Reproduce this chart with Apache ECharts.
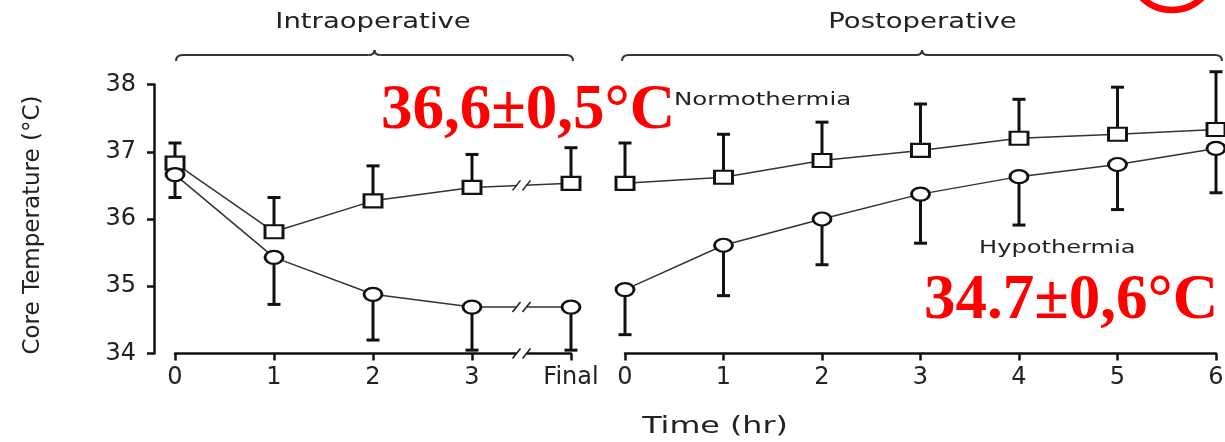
<!DOCTYPE html>
<html><head><meta charset="utf-8">
<script src="https://cdn.jsdelivr.net/npm/echarts@6/dist/echarts.min.js"></script>
<style>html,body{margin:0;padding:0;background:#fff}#c{width:1225px;height:442px}</style>
</head><body><div id="c"></div>
<script>
// ---- data ----
const intraLabels = ['0', '1', '2', '3', 'Final'];
const postLabels = ['0', '1', '2', '3', '4', '5', '6'];
const yTicks = [34, 35, 36, 37, 38];
// Normothermia (squares, SD drawn upward)
const normoIntra = [36.83, 35.81, 36.27, 36.47, 36.53];
const normoIntraSD = [0.30, 0.51, 0.52, 0.49, 0.53];
const normoPost = [36.53, 36.62, 36.87, 37.02, 37.20, 37.26, 37.33];
const normoPostSD = [0.60, 0.64, 0.57, 0.69, 0.58, 0.70, 0.86];
// Hypothermia (circles, SD drawn downward)
const hypoIntra = [36.66, 35.43, 34.88, 34.69, 34.69];
const hypoIntraSD = [0.34, 0.70, 0.68, 0.64, 0.64];
const hypoPost = [34.95, 35.61, 36.00, 36.37, 36.63, 36.81, 37.05];
const hypoPostSD = [0.67, 0.75, 0.68, 0.73, 0.72, 0.67, 0.66];
// axis break between "3" and "Final"
const breakBetween = [3, 4];

const INK = '#111';
const TXT = '#222';
const FONT = 'DejaVu Sans';
const ellipsePath = 'path://M10,0A10,10,0,1,1,10,20A10,10,0,1,1,10,0Z';

function pts(arr) { return arr.map((v, i) => [i, v]); }

function lineSeries(name, xi, arr, symbol) {
  return {
    name, type: 'line', xAxisIndex: xi, yAxisIndex: xi, data: pts(arr), z: 3,
    symbol, symbolSize: [18, 13], showAllSymbol: true,
    itemStyle: { color: '#fff', borderColor: INK, borderWidth: 2.5 },
    lineStyle: { color: '#333', width: 1.5 },
    emphasis: { disabled: true }, silent: true
  };
}

function errSeries(xi, arr, sd, dir) {
  return {
    type: 'custom', xAxisIndex: xi, yAxisIndex: xi, z: 1, clip: false, silent: true,
    data: arr.map((v, i) => [i, v, sd[i]]),
    renderItem: (params, api) => {
      const x = api.value(0), y = api.value(1), e = api.value(2);
      const p0 = api.coord([x, y]);
      const p1 = api.coord([x, y + dir * e]);
      const hw = 6.5;
      return { type: 'group', children: [
        { type: 'line', shape: { x1: p0[0], y1: p0[1], x2: p1[0], y2: p1[1] }, style: { stroke: INK, lineWidth: 3 } },
        { type: 'line', shape: { x1: p1[0] - hw, y1: p1[1], x2: p1[0] + hw, y2: p1[1] }, style: { stroke: INK, lineWidth: 3 } }
      ] };
    }
  };
}

const [ba, bb] = breakBetween;
const breakX = (ba + bb) / 2;
const breakSeries = {
  type: 'custom', xAxisIndex: 0, yAxisIndex: 0, z: 6, clip: false, silent: true,
  data: [
    [breakX, (normoIntra[ba] + normoIntra[bb]) / 2],
    [breakX, (hypoIntra[ba] + hypoIntra[bb]) / 2],
    [breakX, yTicks[0]]
  ],
  renderItem: (params, api) => {
    const p = api.coord([api.value(0), api.value(1)]);
    const cx = p[0], cy = p[1], g = 5;
    return { type: 'group', children: [
      { type: 'rect', shape: { x: cx - g, y: cy - 3.5, width: 2 * g, height: 7 }, style: { fill: '#fff' } },
      { type: 'line', shape: { x1: cx - g - 4, y1: cy + 5, x2: cx - g + 4, y2: cy - 5 }, style: { stroke: '#222', lineWidth: 1.6 } },
      { type: 'line', shape: { x1: cx + g - 4, y1: cy + 5, x2: cx + g + 4, y2: cy - 5 }, style: { stroke: '#222', lineWidth: 1.6 } }
    ] };
  }
};

const axisLineX = { show: true, onZero: false, lineStyle: { color: INK, width: 2.5 } };
const axisLineY = { show: true, onZero: false, lineStyle: { color: INK, width: 2.5 } };
const axisTick = { show: true, length: 7, lineStyle: { color: INK, width: 2.5 } };
const axisLabel = { color: TXT, fontFamily: FONT, fontSize: 24 };

const chart = echarts.init(document.getElementById('c'), null, { renderer: 'canvas' });
chart.setOption({
  animation: false,
  backgroundColor: '#fff',
  grid: [
    { left: 175, top: 84.5, width: 396, height: 269, containLabel: false, outerBoundsMode: 'none' },
    { left: 625, top: 84.5, width: 591, height: 269, containLabel: false, outerBoundsMode: 'none' }
  ],
  xAxis: [
    { type: 'value', gridIndex: 0, min: 0, max: intraLabels.length - 1, interval: 1,
      axisLine: axisLineX, axisTick, splitLine: { show: false },
      axisLabel: Object.assign({}, axisLabel, { margin: 12, formatter: v => intraLabels[v] }) },
    { type: 'value', gridIndex: 1, min: 0, max: postLabels.length - 1, interval: 1,
      axisLine: axisLineX, axisTick, splitLine: { show: false },
      axisLabel: Object.assign({}, axisLabel, { margin: 12, formatter: v => postLabels[v] }) }
  ],
  yAxis: [
    { type: 'value', gridIndex: 0, min: yTicks[0], max: yTicks[yTicks.length - 1], interval: 1,
      position: 'left', offset: 21,
      axisLine: axisLineY, axisTick, splitLine: { show: false },
      axisLabel: Object.assign({}, axisLabel, { margin: 18 }),
      name: 'Core Temperature (°C)', nameLocation: 'middle', nameRotate: 90, nameGap: 109,
      nameTextStyle: { color: TXT, fontFamily: FONT, fontSize: 23, padding: [0, 12, 0, 0] } },
    { type: 'value', gridIndex: 1, min: yTicks[0], max: yTicks[yTicks.length - 1], interval: 1,
      show: false, splitLine: { show: false } }
  ],
  series: [
    errSeries(0, normoIntra, normoIntraSD, 1),
    errSeries(0, hypoIntra, hypoIntraSD, -1),
    errSeries(1, normoPost, normoPostSD, 1),
    errSeries(1, hypoPost, hypoPostSD, -1),
    lineSeries('Normothermia', 0, normoIntra, 'rect'),
    lineSeries('Hypothermia', 0, hypoIntra, ellipsePath),
    lineSeries('Normothermia', 1, normoPost, 'rect'),
    lineSeries('Hypothermia', 1, hypoPost, ellipsePath),
    breakSeries
  ]
});

// ---- annotations (braces, labels), positioned from the axes ----
function brace(x0, x1, yb) {
  const xm = (x0 + x1) / 2;
  const st = { stroke: '#333', lineWidth: 2, fill: 'none' };
  return [
    { type: 'bezierCurve', shape: { x1: x0, y1: yb + 6, cpx1: x0, cpy1: yb, x2: x0 + 7, y2: yb }, style: st },
    { type: 'line', shape: { x1: x0 + 7, y1: yb, x2: xm - 6, y2: yb }, style: st },
    { type: 'bezierCurve', shape: { x1: xm - 6, y1: yb, cpx1: xm, cpy1: yb, x2: xm, y2: yb - 5 }, style: st },
    { type: 'bezierCurve', shape: { x1: xm, y1: yb - 5, cpx1: xm, cpy1: yb, x2: xm + 6, y2: yb }, style: st },
    { type: 'line', shape: { x1: xm + 6, y1: yb, x2: x1 - 7, y2: yb }, style: st },
    { type: 'bezierCurve', shape: { x1: x1 - 7, y1: yb, cpx1: x1, cpy1: yb, x2: x1, y2: yb + 6 }, style: st }
  ];
}
const lx0 = chart.convertToPixel({ xAxisIndex: 0 }, 0);
const lx1 = chart.convertToPixel({ xAxisIndex: 0 }, intraLabels.length - 1);
const rx0 = chart.convertToPixel({ xAxisIndex: 1 }, 0);
const rx1 = chart.convertToPixel({ xAxisIndex: 1 }, postLabels.length - 1);
const braceY = 55;
function label(text, x, y, size, sx) {
  return { type: 'text', x, y, scaleX: sx, silent: true,
    style: { text, fill: TXT, font: size + 'px "' + FONT + '"', align: 'center', verticalAlign: 'middle' } };
}
function red(text, x, y) {
  return { type: 'text', x, y, silent: true, z: 10,
    style: { text, fill: '#ff0000', font: 'bold 63px "Liberation Serif"', align: 'left', verticalAlign: 'middle' } };
}
chart.setOption({
  graphic: [].concat(
    brace(lx0 + 1, lx1 + 2, braceY),
    brace(rx0 - 3, rx1 + 6, braceY),
    [
      label('Intraoperative', (lx0 + lx1) / 2, 22, 22, 1.25),
      label('Postoperative', (rx0 + rx1) / 2 + 2, 22, 22, 1.25),
      { type: 'text', x: 674, y: 100, scaleX: 1.36, silent: true,
        style: { text: 'Normothermia', fill: TXT, font: '18px "' + FONT + '"', align: 'left', verticalAlign: 'middle' } },
      { type: 'text', x: 979, y: 248, scaleX: 1.34, silent: true,
        style: { text: 'Hypothermia', fill: TXT, font: '18px "' + FONT + '"', align: 'left', verticalAlign: 'middle' } },
      label('Time (hr)', 715, 427, 23, 1.38),
      red('36,6±0,5°C', 381, 112),
      red('34.7±0,6°C', 924, 302),
      { type: 'circle', shape: { cx: 1172, cy: -33, r: 43 }, silent: true,
        style: { stroke: '#ff0000', lineWidth: 6.5, fill: 'none' } }
    ]
  )
});
</script>
</body></html>
